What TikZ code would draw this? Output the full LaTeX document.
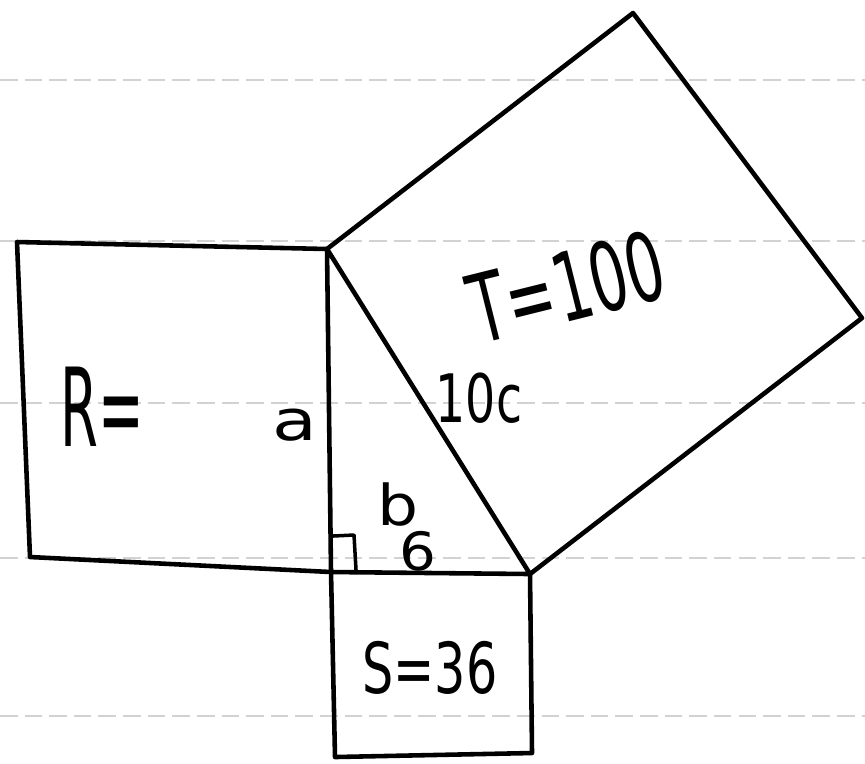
\documentclass[tikz,border=0pt]{standalone}
\usepackage{fontspec}
\setmainfont{DejaVu Sans}
\begin{document}
\begin{tikzpicture}[x=0.01cm,y=-0.01cm,
  edge/.style={line width=1.3pt,line join=round,line cap=round},
  rule/.style={gray!35,line width=0.5pt,dash pattern=on 5pt off 2pt},
  lbl/.style={inner sep=0pt,font=\fontsize{#1}{#1}\selectfont},
  lbl/.default=14]
\useasboundingbox (0,0) rectangle (865,763);
% ruled paper lines
\foreach \yy in {80,241,403,558,716} \draw[rule] (0,\yy) -- (865,\yy);
% vertices
\coordinate (A) at (327,249);
\coordinate (C) at (331,572);
\coordinate (B) at (530,574);
\coordinate (R1) at (17,242);
\coordinate (R2) at (30,557);
\coordinate (S1) at (532,753);
\coordinate (S2) at (335,757);
\coordinate (T1) at (633,13);
\coordinate (T2) at (862,318);
% square R
\draw[edge] (A) -- (R1) -- (R2) -- (C);
% triangle
\draw[edge] (A) -- (C) -- (B) -- cycle;
% square S
\draw[edge] (C) -- (S2) -- (S1) -- (B);
% square T
\draw[edge] (A) -- (T1) -- (T2) -- (B);
% right angle mark
\draw[edge,line width=1pt] (333,536) -- (354,535) -- (356,570);
% labels
\node[lbl=31,xscale=0.5] (lR) at (102,407) {R=};
\node[lbl=16,xscale=1.3] (la) at (295,425) {a};
\node[lbl=19,xscale=0.71] (lc) at (479,398) {10c};
\node[lbl=27,rotate=14,xscale=0.62] (lT) at (567,287) {T=100};
\node[lbl=16,xscale=1.15] (lb) at (398,504) {b};
\node[lbl=15,xscale=1.1] (l6) at (418,551) {6};
\node[lbl=20,xscale=0.7] (lS) at (430,668) {S=36};
\end{tikzpicture}
\end{document}
